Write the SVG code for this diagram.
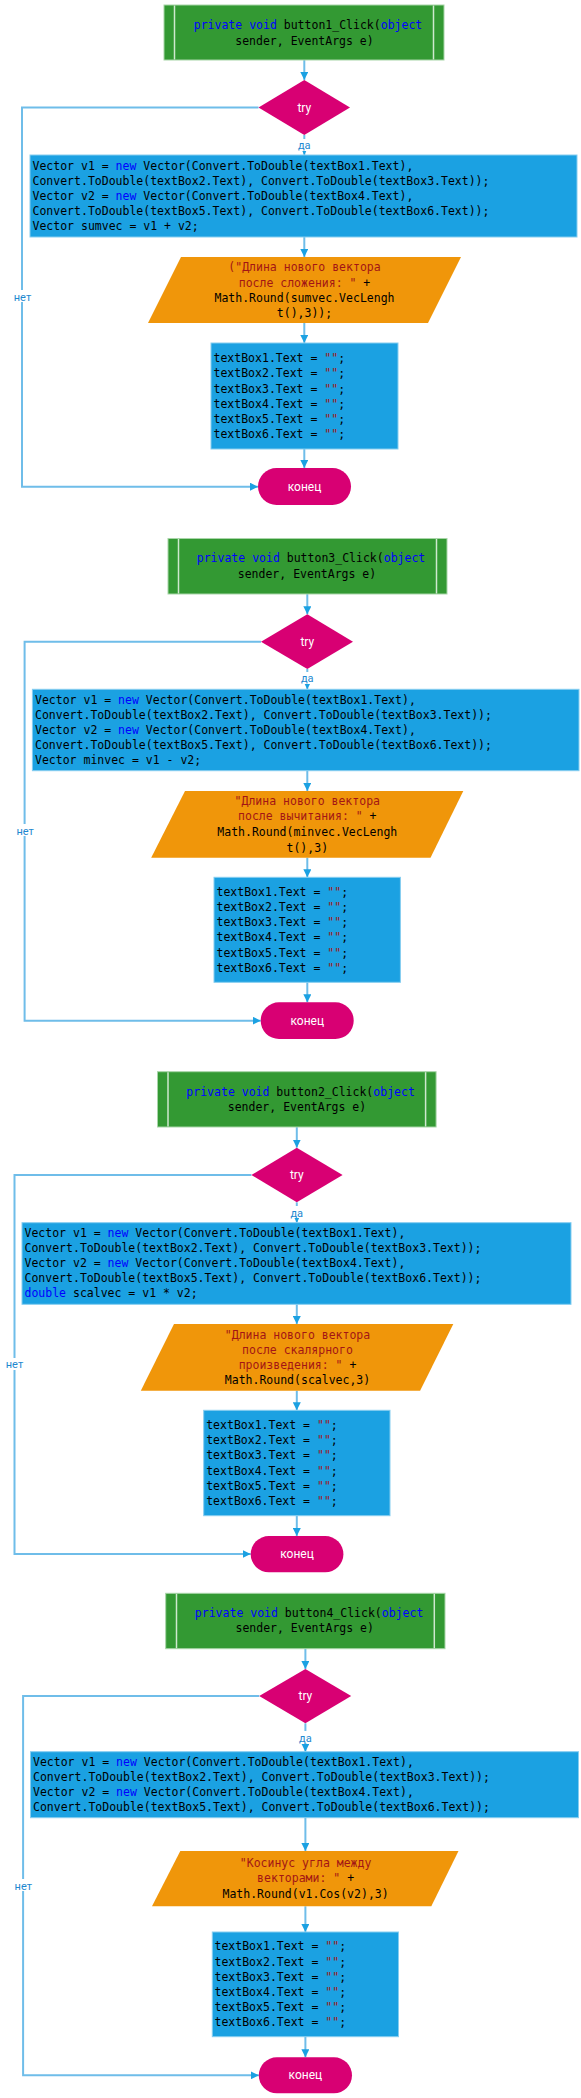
<svg xmlns="http://www.w3.org/2000/svg" width="581" height="2098" viewBox="0 0 581 2098">
<style>
.bg{fill:#ffffff}
.start{fill:#339933;stroke:#a8d5a8;stroke-width:1}
.inner{stroke:#cfe8cf;stroke-width:1.5}
.proc{fill:#1ba1e2;stroke:#86cdf0;stroke-width:1}
.io{fill:#f0960a}
.dec{fill:#d80073}
.term{fill:#d80073}
.code{font-family:"DejaVu Sans Mono","Liberation Mono",monospace;font-size:11.5px;fill:#000000}
.kw{fill:#0000ff}
.str{fill:#a31515}
.wt{font-family:Roboto,"Liberation Sans",sans-serif;font-size:12px;fill:#ffffff;text-anchor:middle}
.lbl{font-family:Roboto,"Liberation Sans",sans-serif;font-size:11px;fill:#1e88d0;text-anchor:middle}
.mid{text-anchor:middle}
.conn{fill:none;stroke:#6fbde9;stroke-width:2}
</style>
<defs>
<marker id="ah" markerUnits="userSpaceOnUse" markerWidth="8" markerHeight="8" viewBox="0 0 8 8" refX="8" refY="4" orient="auto">
<path d="M0,0 L8,4 L0,8 z" fill="#1ba1e2"/>
</marker>
</defs>
<rect class="bg" x="0" y="0" width="581" height="2098"/>

<g id="connectors">
<!-- flow 1 -->
<path class="conn" d="M304.3 60 V80" marker-end="url(#ah)"/>
<path class="conn" d="M304.3 135 V155" marker-end="url(#ah)"/>
<path class="conn" d="M304.3 237 V257" marker-end="url(#ah)"/>
<path class="conn" d="M304.3 323 V343" marker-end="url(#ah)"/>
<path class="conn" d="M304.3 449 V468" marker-end="url(#ah)"/>
<path class="conn" d="M258.5 107.5 H22 V486.7 H258" marker-end="url(#ah)"/>
<!-- flow 2 -->
<path class="conn" d="M307.3 594 V614.3" marker-end="url(#ah)"/>
<path class="conn" d="M307.3 669 V689.3" marker-end="url(#ah)"/>
<path class="conn" d="M307.3 770.7 V791" marker-end="url(#ah)"/>
<path class="conn" d="M307.3 857.7 V877.3" marker-end="url(#ah)"/>
<path class="conn" d="M307.3 982.3 V1002.3" marker-end="url(#ah)"/>
<path class="conn" d="M261 641.7 H24.6 V1020.7 H260.7" marker-end="url(#ah)"/>
<!-- flow 3 -->
<path class="conn" d="M296.8 1127 V1147.7" marker-end="url(#ah)"/>
<path class="conn" d="M296.8 1202.3 V1222.7" marker-end="url(#ah)"/>
<path class="conn" d="M296.8 1304.3 V1324" marker-end="url(#ah)"/>
<path class="conn" d="M296.8 1390.7 V1410.3" marker-end="url(#ah)"/>
<path class="conn" d="M296.8 1515.7 V1536" marker-end="url(#ah)"/>
<path class="conn" d="M251.4 1175 H14.5 V1554 H250.7" marker-end="url(#ah)"/>
<!-- flow 4 -->
<path class="conn" d="M305.4 1648.7 V1669" marker-end="url(#ah)"/>
<path class="conn" d="M305.4 1723.3 V1751.7" marker-end="url(#ah)"/>
<path class="conn" d="M305.4 1817.7 V1851" marker-end="url(#ah)"/>
<path class="conn" d="M305.4 1906.3 V1932" marker-end="url(#ah)"/>
<path class="conn" d="M305.4 2036.7 V2057.3" marker-end="url(#ah)"/>
<path class="conn" d="M259.2 1696 H23.1 V2075.3 H258.8" marker-end="url(#ah)"/>
<!-- labels -->
<rect x="296" y="139" width="17" height="12" fill="#fff"/><text class="lbl" x="304.3" y="149">да</text>
<rect x="12" y="290" width="21" height="12" fill="#fff"/><text class="lbl" x="22.5" y="300.5">нет</text>
<rect x="299" y="672" width="17" height="12" fill="#fff"/><text class="lbl" x="307.3" y="682">да</text>
<rect x="15" y="824" width="21" height="12" fill="#fff"/><text class="lbl" x="25.2" y="834.5">нет</text>
<rect x="288" y="1206" width="17" height="12" fill="#fff"/><text class="lbl" x="296.8" y="1216.5">да</text>
<rect x="4" y="1358" width="21" height="12" fill="#fff"/><text class="lbl" x="14.5" y="1368">нет</text>
<rect x="297" y="1731" width="17" height="12" fill="#fff"/><text class="lbl" x="305.4" y="1741.5">да</text>
<rect x="13" y="1879" width="21" height="12" fill="#fff"/><text class="lbl" x="23.3" y="1889.5">нет</text>
</g>

<!-- ===== Flow 1 ===== -->
<g id="start1">
<rect class="start" x="164" y="5" width="280" height="55"/>
<line class="inner" x1="174.5" y1="5.5" x2="174.5" y2="59.5"/>
<line class="inner" x1="433.5" y1="5.5" x2="433.5" y2="59.5"/>
<text class="code mid" x="308" y="29"><tspan class="kw">private void</tspan> button1_Click(<tspan class="kw">object</tspan></text>
<text class="code mid" x="304.5" y="44.7">sender, EventArgs e)</text>
</g>
<g id="try1">
<polygon class="dec" points="304.3,80 350,107.5 304.3,135 258.5,107.5"/>
<text class="wt" x="304.3" y="111.5">try</text>
</g>
<g id="proc1">
<rect class="proc" x="30" y="155" width="547" height="82"/>
<text class="code" x="32.5" y="169.7">Vector v1 = <tspan class="kw">new</tspan> Vector(Convert.ToDouble(textBox1.Text),</text>
<text class="code" x="32.5" y="184.9">Convert.ToDouble(textBox2.Text), Convert.ToDouble(textBox3.Text));</text>
<text class="code" x="32.5" y="200.1">Vector v2 = <tspan class="kw">new</tspan> Vector(Convert.ToDouble(textBox4.Text),</text>
<text class="code" x="32.5" y="215.3">Convert.ToDouble(textBox5.Text), Convert.ToDouble(textBox6.Text));</text>
<text class="code" x="32.5" y="230.4">Vector sumvec = v1 + v2;</text>
</g>
<g id="out1">
<polygon class="io" points="181,257 461,257 428,323 148,323"/>
<text class="code mid" x="304.5" y="271.3"><tspan class="str">("Длина нового вектора</tspan></text>
<text class="code mid" x="304.5" y="286.6"><tspan class="str">после сложения: "</tspan> +</text>
<text class="code mid" x="304.5" y="302">Math.Round(sumvec.VecLengh</text>
<text class="code mid" x="304.5" y="317.3">t(),3));</text>
</g>
<g id="clear1">
<rect class="proc" x="211" y="343" width="187" height="106"/>
<text class="code" x="213.5" y="362.3">textBox1.Text = <tspan class="str">""</tspan>;</text>
<text class="code" x="213.5" y="377.4">textBox2.Text = <tspan class="str">""</tspan>;</text>
<text class="code" x="213.5" y="392.5">textBox3.Text = <tspan class="str">""</tspan>;</text>
<text class="code" x="213.5" y="407.6">textBox4.Text = <tspan class="str">""</tspan>;</text>
<text class="code" x="213.5" y="422.9">textBox5.Text = <tspan class="str">""</tspan>;</text>
<text class="code" x="213.5" y="438">textBox6.Text = <tspan class="str">""</tspan>;</text>
</g>
<g id="end1">
<rect class="term" x="258" y="468" width="93" height="37" rx="18.5"/>
<text class="wt" x="304.5" y="490.7">конец</text>
</g>

<!-- ===== Flow 2 ===== -->
<g id="start2">
<rect class="start" x="168" y="538.5" width="279" height="55.5"/>
<line class="inner" x1="178.5" y1="539" x2="178.5" y2="593.5"/>
<line class="inner" x1="436.5" y1="539" x2="436.5" y2="593.5"/>
<text class="code mid" x="311" y="562.3"><tspan class="kw">private void</tspan> button3_Click(<tspan class="kw">object</tspan></text>
<text class="code mid" x="307" y="578">sender, EventArgs e)</text>
</g>
<g id="try2">
<polygon class="dec" points="307.3,614.3 353,641.7 307.3,669 261,641.7"/>
<text class="wt" x="307.3" y="645.7">try</text>
</g>
<g id="proc2">
<rect class="proc" x="32.4" y="689.3" width="546.6" height="81.4"/>
<text class="code" x="35" y="704">Vector v1 = <tspan class="kw">new</tspan> Vector(Convert.ToDouble(textBox1.Text),</text>
<text class="code" x="35" y="719">Convert.ToDouble(textBox2.Text), Convert.ToDouble(textBox3.Text));</text>
<text class="code" x="35" y="734">Vector v2 = <tspan class="kw">new</tspan> Vector(Convert.ToDouble(textBox4.Text),</text>
<text class="code" x="35" y="749">Convert.ToDouble(textBox5.Text), Convert.ToDouble(textBox6.Text));</text>
<text class="code" x="35" y="764">Vector minvec = v1 - v2;</text>
</g>
<g id="out2">
<polygon class="io" points="185,791 463.3,791 430.5,857.7 151.2,857.7"/>
<text class="code mid" x="307.3" y="805.3"><tspan class="str">"Длина нового вектора</tspan></text>
<text class="code mid" x="307.3" y="820.3"><tspan class="str">после вычитания: "</tspan> +</text>
<text class="code mid" x="307.3" y="835.8">Math.Round(minvec.VecLengh</text>
<text class="code mid" x="307.3" y="851.5">t(),3)</text>
</g>
<g id="clear2">
<rect class="proc" x="214" y="877.3" width="186.4" height="105"/>
<text class="code" x="216.5" y="896">textBox1.Text = <tspan class="str">""</tspan>;</text>
<text class="code" x="216.5" y="911">textBox2.Text = <tspan class="str">""</tspan>;</text>
<text class="code" x="216.5" y="926">textBox3.Text = <tspan class="str">""</tspan>;</text>
<text class="code" x="216.5" y="941">textBox4.Text = <tspan class="str">""</tspan>;</text>
<text class="code" x="216.5" y="956.8">textBox5.Text = <tspan class="str">""</tspan>;</text>
<text class="code" x="216.5" y="971.8">textBox6.Text = <tspan class="str">""</tspan>;</text>
</g>
<g id="end2">
<rect class="term" x="260.7" y="1002.3" width="93" height="36.7" rx="18.3"/>
<text class="wt" x="307.3" y="1024.8">конец</text>
</g>

<!-- ===== Flow 3 ===== -->
<g id="start3">
<rect class="start" x="157.5" y="1071.7" width="278.6" height="55.3"/>
<line class="inner" x1="168" y1="1072.2" x2="168" y2="1126.5"/>
<line class="inner" x1="425.6" y1="1072.2" x2="425.6" y2="1126.5"/>
<text class="code mid" x="300.6" y="1096"><tspan class="kw">private void</tspan> button2_Click(<tspan class="kw">object</tspan></text>
<text class="code mid" x="297" y="1111">sender, EventArgs e)</text>
</g>
<g id="try3">
<polygon class="dec" points="296.8,1147.7 342.6,1175 296.8,1202.3 251.4,1175"/>
<text class="wt" x="296.8" y="1179">try</text>
</g>
<g id="proc3">
<rect class="proc" x="22" y="1222.7" width="549" height="81.6"/>
<text class="code" x="24.5" y="1237.3">Vector v1 = <tspan class="kw">new</tspan> Vector(Convert.ToDouble(textBox1.Text),</text>
<text class="code" x="24.5" y="1252.3">Convert.ToDouble(textBox2.Text), Convert.ToDouble(textBox3.Text));</text>
<text class="code" x="24.5" y="1267.3">Vector v2 = <tspan class="kw">new</tspan> Vector(Convert.ToDouble(textBox4.Text),</text>
<text class="code" x="24.5" y="1282.3">Convert.ToDouble(textBox5.Text), Convert.ToDouble(textBox6.Text));</text>
<text class="code" x="24.5" y="1297.3"><tspan class="kw">double</tspan> scalvec = v1 * v2;</text>
</g>
<g id="out3">
<polygon class="io" points="174,1324 453.3,1324 420.1,1390.7 140.8,1390.7"/>
<text class="code mid" x="297.5" y="1339.3"><tspan class="str">"Длина нового вектора</tspan></text>
<text class="code mid" x="297.5" y="1354.3"><tspan class="str">после скалярного</tspan></text>
<text class="code mid" x="297.5" y="1369.3"><tspan class="str">произведения: "</tspan> +</text>
<text class="code mid" x="297.5" y="1384.3">Math.Round(scalvec,3)</text>
</g>
<g id="clear3">
<rect class="proc" x="203.7" y="1410.3" width="186.3" height="105.4"/>
<text class="code" x="206.2" y="1429.3">textBox1.Text = <tspan class="str">""</tspan>;</text>
<text class="code" x="206.2" y="1444.3">textBox2.Text = <tspan class="str">""</tspan>;</text>
<text class="code" x="206.2" y="1459.3">textBox3.Text = <tspan class="str">""</tspan>;</text>
<text class="code" x="206.2" y="1475">textBox4.Text = <tspan class="str">""</tspan>;</text>
<text class="code" x="206.2" y="1490">textBox5.Text = <tspan class="str">""</tspan>;</text>
<text class="code" x="206.2" y="1505">textBox6.Text = <tspan class="str">""</tspan>;</text>
</g>
<g id="end3">
<rect class="term" x="250.7" y="1536" width="92.7" height="36.3" rx="18.2"/>
<text class="wt" x="297" y="1558.2">конец</text>
</g>

<!-- ===== Flow 4 ===== -->
<g id="start4">
<rect class="start" x="165.7" y="1593.3" width="279.3" height="55.4"/>
<line class="inner" x1="176.5" y1="1593.8" x2="176.5" y2="1648.2"/>
<line class="inner" x1="434.3" y1="1593.8" x2="434.3" y2="1648.2"/>
<text class="code mid" x="309.1" y="1617.3"><tspan class="kw">private void</tspan> button4_Click(<tspan class="kw">object</tspan></text>
<text class="code mid" x="304.7" y="1632.3">sender, EventArgs e)</text>
</g>
<g id="try4">
<polygon class="dec" points="305.4,1669 351.2,1696 305.4,1723.3 259.2,1696"/>
<text class="wt" x="305.4" y="1700">try</text>
</g>
<g id="proc4">
<rect class="proc" x="30.5" y="1751.7" width="548" height="66"/>
<text class="code" x="33" y="1766.3">Vector v1 = <tspan class="kw">new</tspan> Vector(Convert.ToDouble(textBox1.Text),</text>
<text class="code" x="33" y="1781">Convert.ToDouble(textBox2.Text), Convert.ToDouble(textBox3.Text));</text>
<text class="code" x="33" y="1796">Vector v2 = <tspan class="kw">new</tspan> Vector(Convert.ToDouble(textBox4.Text),</text>
<text class="code" x="33" y="1811">Convert.ToDouble(textBox5.Text), Convert.ToDouble(textBox6.Text));</text>
</g>
<g id="out4">
<polygon class="io" points="180.3,1851 458.5,1851 431.3,1906.3 152,1906.3"/>
<text class="code mid" x="305.6" y="1867.3"><tspan class="str">"Косинус угла между</tspan></text>
<text class="code mid" x="305.6" y="1882.3"><tspan class="str">векторами: "</tspan> +</text>
<text class="code mid" x="305.6" y="1897.7">Math.Round(v1.Cos(v2),3)</text>
</g>
<g id="clear4">
<rect class="proc" x="212.3" y="1932" width="186.2" height="104.7"/>
<text class="code" x="214.5" y="1950.3">textBox1.Text = <tspan class="str">""</tspan>;</text>
<text class="code" x="214.5" y="1966">textBox2.Text = <tspan class="str">""</tspan>;</text>
<text class="code" x="214.5" y="1981">textBox3.Text = <tspan class="str">""</tspan>;</text>
<text class="code" x="214.5" y="1996">textBox4.Text = <tspan class="str">""</tspan>;</text>
<text class="code" x="214.5" y="2011">textBox5.Text = <tspan class="str">""</tspan>;</text>
<text class="code" x="214.5" y="2026">textBox6.Text = <tspan class="str">""</tspan>;</text>
</g>
<g id="end4">
<rect class="term" x="258.8" y="2057.3" width="93.2" height="36" rx="18"/>
<text class="wt" x="305.4" y="2079.4">конец</text>
</g>
</svg>
